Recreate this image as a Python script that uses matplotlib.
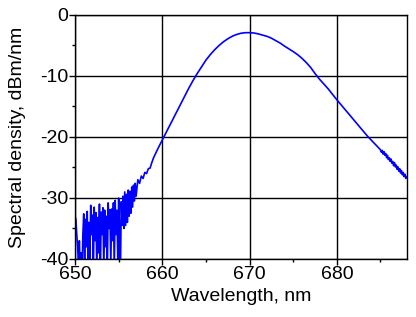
import matplotlib
matplotlib.use("Agg")
import matplotlib.pyplot as plt
from matplotlib.ticker import MultipleLocator

plt.rcParams['font.family'] = ['Liberation Sans', 'DejaVu Sans']
plt.rcParams['axes.unicode_minus'] = False

# Noisy low-signal region (nm, dBm/nm)
wl_noise = [650.0, 650.1, 650.2, 650.3, 650.4, 650.5, 650.6, 650.7, 650.8, 650.9,
            651.0, 651.1, 651.2, 651.3, 651.4, 651.5, 651.6, 651.7, 651.8, 651.9,
            652.0, 652.1, 652.2, 652.3, 652.4, 652.5, 652.6, 652.7, 652.8, 652.9,
            653.0, 653.1, 653.2, 653.3, 653.4, 653.5, 653.6, 653.7, 653.8, 653.9,
            654.0, 654.1, 654.2, 654.3, 654.4, 654.5, 654.6, 654.7, 654.8, 654.9,
            655.0, 655.1, 655.2, 655.3, 655.4, 655.5, 655.6, 655.7, 655.8, 655.9,
            656.0, 656.1, 656.2, 656.3, 656.4, 656.5, 656.6, 656.7, 656.8, 656.9,
            657.0, 657.2, 657.4, 657.6, 657.8, 658.0, 658.2, 658.4, 658.6, 658.8,
            659.0]
sd_noise = [-33, -33.5, -36, -38, -41, -37, -42, -39, -43, -36,
            -32.6, -41, -33.5, -38, -32.2, -42, -34.0, -40, -31.2, -36,
            -32.8, -43, -31.5, -37, -32.4, -42, -33.2, -39, -31.0, -44,
            -32.3, -36, -31.6, -42, -32.0, -38, -33.0, -43, -30.8, -35,
            -31.9, -41, -31.8, -37, -30.8, -42, -30.4, -36, -32.0, -40,
            -30.0, -35, -43, -30.6, -34.5, -29.7, -35, -29.0, -34.5, -29.4,
            -34, -28.7, -33, -28.9, -32.5, -28.2, -31.5, -27.9, -30.5, -27.6,
            -29.7, -27.0, -27.6, -26.4, -26.8, -25.8, -26.0, -25.2, -25.1, -24.2,
            -23.4]

# Main spectral peak
wl_main = [659.5, 660.0, 660.5, 661.0, 661.5, 662.0, 662.5, 663.0, 663.5, 664.0,
           664.5, 665.0, 665.5, 666.0, 666.5, 667.0, 667.5, 668.0, 668.5, 669.0,
           669.5, 670.0, 670.5, 671.0, 671.5, 672.0, 672.5, 673.0, 673.5, 674.0,
           674.5, 675.0, 675.5, 676.0, 676.5, 677.0, 677.5, 678.0, 678.5, 679.0,
           679.5, 680.0, 680.5, 681.0, 681.5, 682.0, 682.5, 683.0, 683.5, 684.0,
           684.5]
sd_main = [-21.9, -20.5, -19.1, -17.7, -16.3, -14.9, -13.5, -12.1, -10.8, -9.6,
           -8.5, -7.4, -6.5, -5.7, -5.0, -4.4, -3.9, -3.5, -3.2, -3.0,
           -2.9, -2.9, -2.95, -3.1, -3.3, -3.5, -3.8, -4.2, -4.6, -5.1,
           -5.55, -6.0, -6.5, -7.1, -7.8, -8.6, -9.6, -10.5, -11.3, -12.1,
           -13.0, -13.9, -14.75, -15.6, -16.45, -17.3, -18.15, -19.0, -19.85, -20.6,
           -21.35]

# Long-wavelength tail (slightly noisy)
wl_tail = [685.0, 685.1, 685.2, 685.3, 685.4, 685.5, 685.6, 685.7, 685.8, 685.9,
           686.0, 686.1, 686.2, 686.3, 686.4, 686.5, 686.6, 686.7, 686.8, 686.9,
           687.0, 687.1, 687.2, 687.3, 687.4, 687.5, 687.6, 687.7, 687.8, 687.9,
           688.0]
sd_tail = [-22.1, -22.5, -22.2, -22.8, -22.4, -23.0, -22.7, -23.4, -23.0, -23.7,
           -23.4, -24.0, -23.6, -24.3, -24.0, -24.7, -24.2, -24.9, -24.6, -25.3,
           -24.9, -25.6, -25.2, -25.9, -25.5, -26.2, -25.8, -26.5, -26.1, -26.8,
           -26.5]

wl = wl_noise + wl_main + wl_tail
sd = sd_noise + sd_main + sd_tail

fig = plt.figure(figsize=(4.16, 3.17), dpi=100)
ax = fig.add_axes([0.1803, 0.183, 0.7973, 0.7697])
ax.plot(wl, sd, color='#0000ff', linewidth=1.2)

ax.set_xlim(650, 688)
ax.set_ylim(-40, 0)
ax.xaxis.set_major_locator(MultipleLocator(10))
ax.xaxis.set_minor_locator(MultipleLocator(5))
ax.yaxis.set_major_locator(MultipleLocator(10))
ax.yaxis.set_minor_locator(MultipleLocator(5))
ax.grid(True, which='major', color='black', linewidth=1.0)
ax.tick_params(which='major', direction='out', length=4, width=1, labelsize=14, pad=1,
               top=False, right=False)
ax.tick_params(which='minor', direction='out', length=2.5, width=1, top=False, right=False)
for s in ax.spines.values():
    s.set_linewidth(1.0)
    s.set_color('black')

ax.set_xlabel('Wavelength, nm', fontsize=14, labelpad=4)
ax.set_ylabel('Spectral density, dBm/nm', fontsize=14, labelpad=10)

fig.savefig('out.png', dpi=100)
